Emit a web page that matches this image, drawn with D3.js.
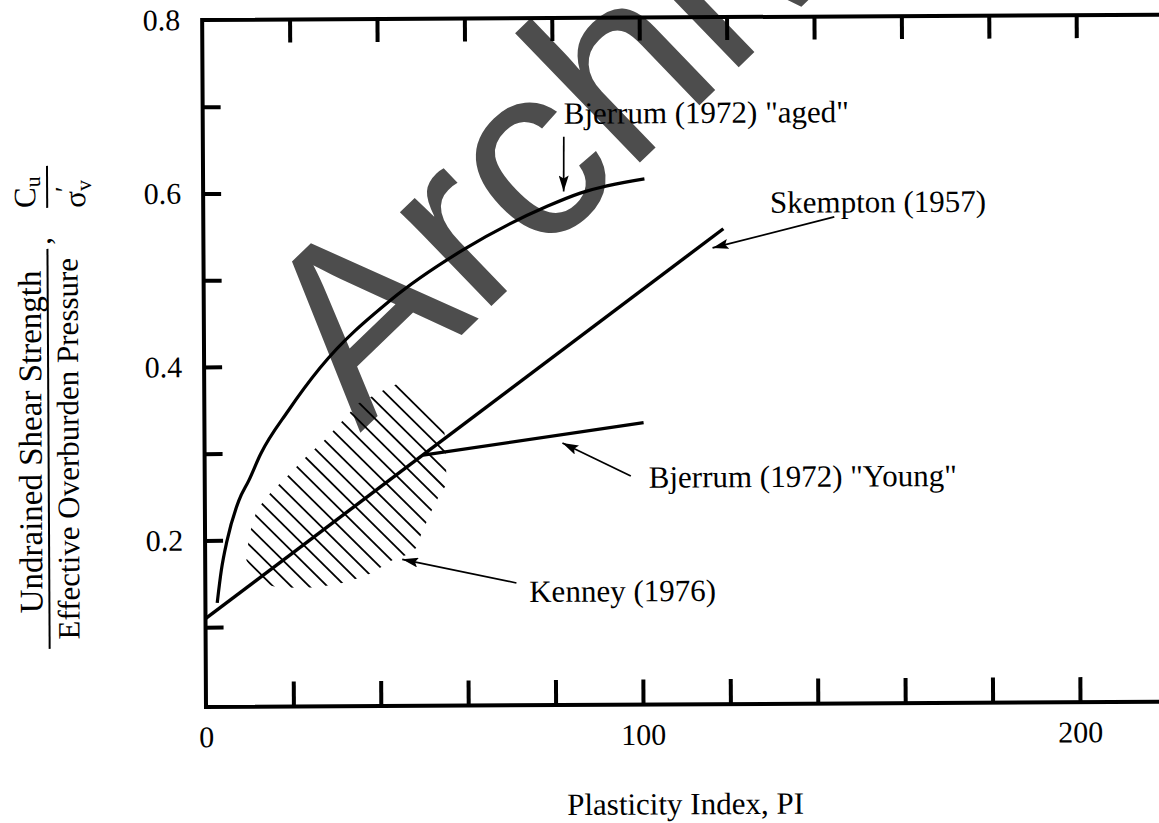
<!DOCTYPE html>
<html>
<head>
<meta charset="utf-8">
<script src="https://cdn.jsdelivr.net/npm/d3@7"></script>
<style>
  html, body { margin: 0; padding: 0; background: #fff; }
  svg { display: block; }
  text { font-family: "Liberation Serif", "Times New Roman", serif; fill: #000; }
</style>
</head>
<body>
<svg id="chart" width="1159" height="823"></svg>
<script>
// Bjerrum (1972) "aged" clays
const agedPI    = [2.7, 3.7, 5.0, 7.8, 10.1, 12.8, 19.2, 26.5, 42.8, 59.3, 78.7, 86.3, 101.0];
const agedRatio = [0.128, 0.166, 0.199, 0.246, 0.269, 0.299, 0.349, 0.398, 0.476, 0.533, 0.583, 0.598, 0.614];

// Skempton (1957) straight-line relation
const skemptonPI    = [0, 119];
const skemptonRatio = [0.11, 0.556];

// Bjerrum (1972) "young" clays
const youngPI    = [50, 100.5];
const youngRatio = [0.297, 0.333];

// Kenney (1976) band outline (hatched)
const kenneyPI    = [9.4, 10.1, 11.9, 15.1, 19.2, 23.3, 27.5, 31.4, 35.2, 38.0, 41.0, 44.5,
                     54.9, 55.3, 55.2, 53.5, 51.7, 49.4, 48.3, 46.0, 42.8, 38.0, 32.3, 25.4, 16.9, 12.4];
const kenneyRatio = [0.177, 0.206, 0.235, 0.255, 0.275, 0.296, 0.315, 0.336, 0.357, 0.364, 0.372, 0.380,
                     0.326, 0.280, 0.262, 0.249, 0.231, 0.205, 0.190, 0.182, 0.176, 0.161, 0.151, 0.145, 0.145, 0.151];

// Axis ticks and labels
const xTicks = [20, 40, 60, 80, 100, 120, 140, 160, 180, 200, 220];
const xTickLabels = [0, 100, 200];
const yTicks = [0.1, 0.2, 0.3, 0.4, 0.5, 0.6, 0.7];
const yTickLabels = [0.2, 0.4, 0.6, 0.8];

const yFloor = 0.008;   // the lower frame edge sits just above zero
const xFrameEnd = 240;  // the frame runs on past the right edge

const svg = d3.select("#chart");
const x = d3.scaleLinear().domain([0, 200]).range([206, 1080]);
const y = d3.scaleLinear().domain([yFloor, 0.8]).range([707, 20]);

// Watermark
svg.append("text")
  .attr("transform", "translate(360,433) rotate(-44)")
  .style("font-family", "'Liberation Sans', Arial, sans-serif")
  .attr("font-size", 248)
  .style("fill", "#4d4d4d")
  .text("Archive");

const g = svg.append("g").attr("transform", "rotate(-0.32, 206, 707)");

// Arrow head
const defs = svg.append("defs");
defs.append("marker")
  .attr("id", "head")
  .attr("viewBox", "0 0 16 10")
  .attr("refX", 16).attr("refY", 5)
  .attr("markerWidth", 16).attr("markerHeight", 10)
  .attr("markerUnits", "userSpaceOnUse")
  .attr("orient", "auto")
  .append("path").attr("d", "M0,0 L16,5 L0,10 L3,5 Z").attr("fill", "#000");

// Frame
g.append("path")
  .attr("d", `M${x(xFrameEnd)},${y(0.8)} H${x(0)} V${y(yFloor)} H${x(xFrameEnd)}`)
  .attr("fill", "none").attr("stroke", "#000").attr("stroke-width", 4)
  .attr("stroke-linecap", "square");

function styleAxis(sel) {
  sel.select(".domain").remove();
  sel.selectAll(".tick line").attr("stroke", "#000").attr("stroke-width", 4);
  sel.selectAll(".tick text")
    .attr("font-family", null).attr("font-size", 30)
    .style("font-family", "'Liberation Serif', 'Times New Roman', serif");
  sel.attr("font-family", null).attr("font-size", null);
}

// Bottom axis
g.append("g")
  .attr("transform", `translate(0,${y(yFloor)})`)
  .call(d3.axisBottom(x).tickValues([0, ...xTicks]).tickSizeInner(-25).tickSizeOuter(0)
    .tickPadding(19).tickFormat(d => xTickLabels.includes(d) ? d : ""))
  .call(styleAxis)
  .call(s => s.selectAll(".tick").filter(d => d === 0).select("line").remove());

// Top axis
g.append("g")
  .attr("transform", `translate(0,${y(0.8)})`)
  .call(d3.axisTop(x).tickValues(xTicks).tickSizeInner(-23).tickSizeOuter(0).tickFormat(""))
  .call(styleAxis);

// Left axis
g.append("g")
  .attr("transform", `translate(${x(0)},0)`)
  .call(d3.axisLeft(y).tickValues([...yTicks, 0.8]).tickSizeInner(-18).tickSizeOuter(0)
    .tickPadding(22).tickFormat(d => yTickLabels.includes(d) ? d3.format(".1f")(d) : ""))
  .call(styleAxis)
  .call(s => s.selectAll(".tick").filter(d => d === 0.8).select("line").remove());

// Kenney band: hatching clipped to its outline
const kenneyPts = kenneyPI.map((p, i) => [x(p), y(kenneyRatio[i])]);
defs.append("clipPath").attr("id", "kenneyClip")
  .append("path").attr("d", "M" + kenneyPts.join("L") + "Z");
const hatch = g.append("g").attr("clip-path", "url(#kenneyClip)");
const hx0 = d3.min(kenneyPts, d => d[0]) - 10, hx1 = d3.max(kenneyPts, d => d[0]) + 10;
for (let c = 11; c > -360; c -= 18) {
  hatch.append("line")
    .attr("x1", hx0).attr("y1", hx0 - c)
    .attr("x2", hx1).attr("y2", hx1 - c)
    .attr("stroke", "#000").attr("stroke-width", 1.8);
}

// Curves
const lineGen = d3.line().x(d => x(d[0])).y(d => y(d[1]));
g.append("path")
  .attr("d", lineGen.curve(d3.curveMonotoneX)(agedPI.map((p, i) => [p, agedRatio[i]])))
  .attr("fill", "none").attr("stroke", "#000").attr("stroke-width", 3.2);
g.append("path")
  .attr("d", d3.line().x(d => x(d[0])).y(d => y(d[1]))(skemptonPI.map((p, i) => [p, skemptonRatio[i]])))
  .attr("fill", "none").attr("stroke", "#000").attr("stroke-width", 3.4);
g.append("path")
  .attr("d", d3.line().x(d => x(d[0])).y(d => y(d[1]))(youngPI.map((p, i) => [p, youngRatio[i]])))
  .attr("fill", "none").attr("stroke", "#000").attr("stroke-width", 3.2);

// Annotations: label text, label anchor and arrow (from -> to), in data units
const notes = [
  { text: "Bjerrum (1972) \"aged\"",  at: [82.6, 0.678], from: [82.6, 0.663], to: [82.5, 0.600] },
  { text: "Skempton (1957)",          at: [129.7, 0.574], from: [144.4, 0.569], to: [116.5, 0.534] },
  { text: "Bjerrum (1972) \"Young\"", at: [101.6, 0.258], from: [97.5, 0.2715], to: [81.9, 0.310] },
  { text: "Kenney (1976)",            at: [74.1, 0.127], from: [71.2, 0.149], to: [45.1, 0.177] }
];
notes.forEach(n => {
  g.append("line")
    .attr("x1", x(n.from[0])).attr("y1", y(n.from[1]))
    .attr("x2", x(n.to[0])).attr("y2", y(n.to[1]))
    .attr("stroke", "#000").attr("stroke-width", 1.7)
    .attr("marker-end", "url(#head)");
  g.append("text")
    .attr("x", x(n.at[0])).attr("y", y(n.at[1]))
    .attr("font-size", 31)
    .text(n.text);
});

// X axis title
g.append("text")
  .attr("x", 685).attr("y", 817)
  .attr("text-anchor", "middle").attr("font-size", 31)
  .text("Plasticity Index, PI");

// Y axis title: a stacked fraction, a comma, then Cu / σv′
const yl = g.append("g");
function vtext(str, bx, cy, size, anchor) {
  return yl.append("text")
    .attr("transform", `translate(${bx},${cy}) rotate(-90)`)
    .attr("text-anchor", anchor || "middle")
    .attr("font-size", size)
    .text(str);
}
vtext("Undrained Shear Strength", 43, 441, 33);
yl.append("line").attr("x1", 50).attr("x2", 50).attr("y1", 248).attr("y2", 648)
  .attr("stroke", "#000").attr("stroke-width", 2);
vtext("Effective Overburden Pressure", 80, 448, 31);
vtext(",", 53, 244, 31, "start");

const cu = yl.append("text")
  .attr("transform", "translate(38,207) rotate(-90)")
  .attr("font-size", 31);
cu.append("tspan").text("C");
cu.append("tspan").attr("font-size", 22).attr("dy", 5).text("u");
yl.append("line").attr("x1", 50).attr("x2", 50).attr("y1", 165).attr("y2", 207)
  .attr("stroke", "#000").attr("stroke-width", 2);
const sv = yl.append("text")
  .attr("transform", "translate(88,207) rotate(-90)")
  .attr("font-size", 31);
sv.append("tspan").text("σ");
sv.append("tspan").attr("font-size", 22).attr("dy", 6).text("v");
sv.append("tspan").attr("font-size", 26).attr("dy", -18).attr("dx", -12).text("′");
</script>
</body>
</html>
